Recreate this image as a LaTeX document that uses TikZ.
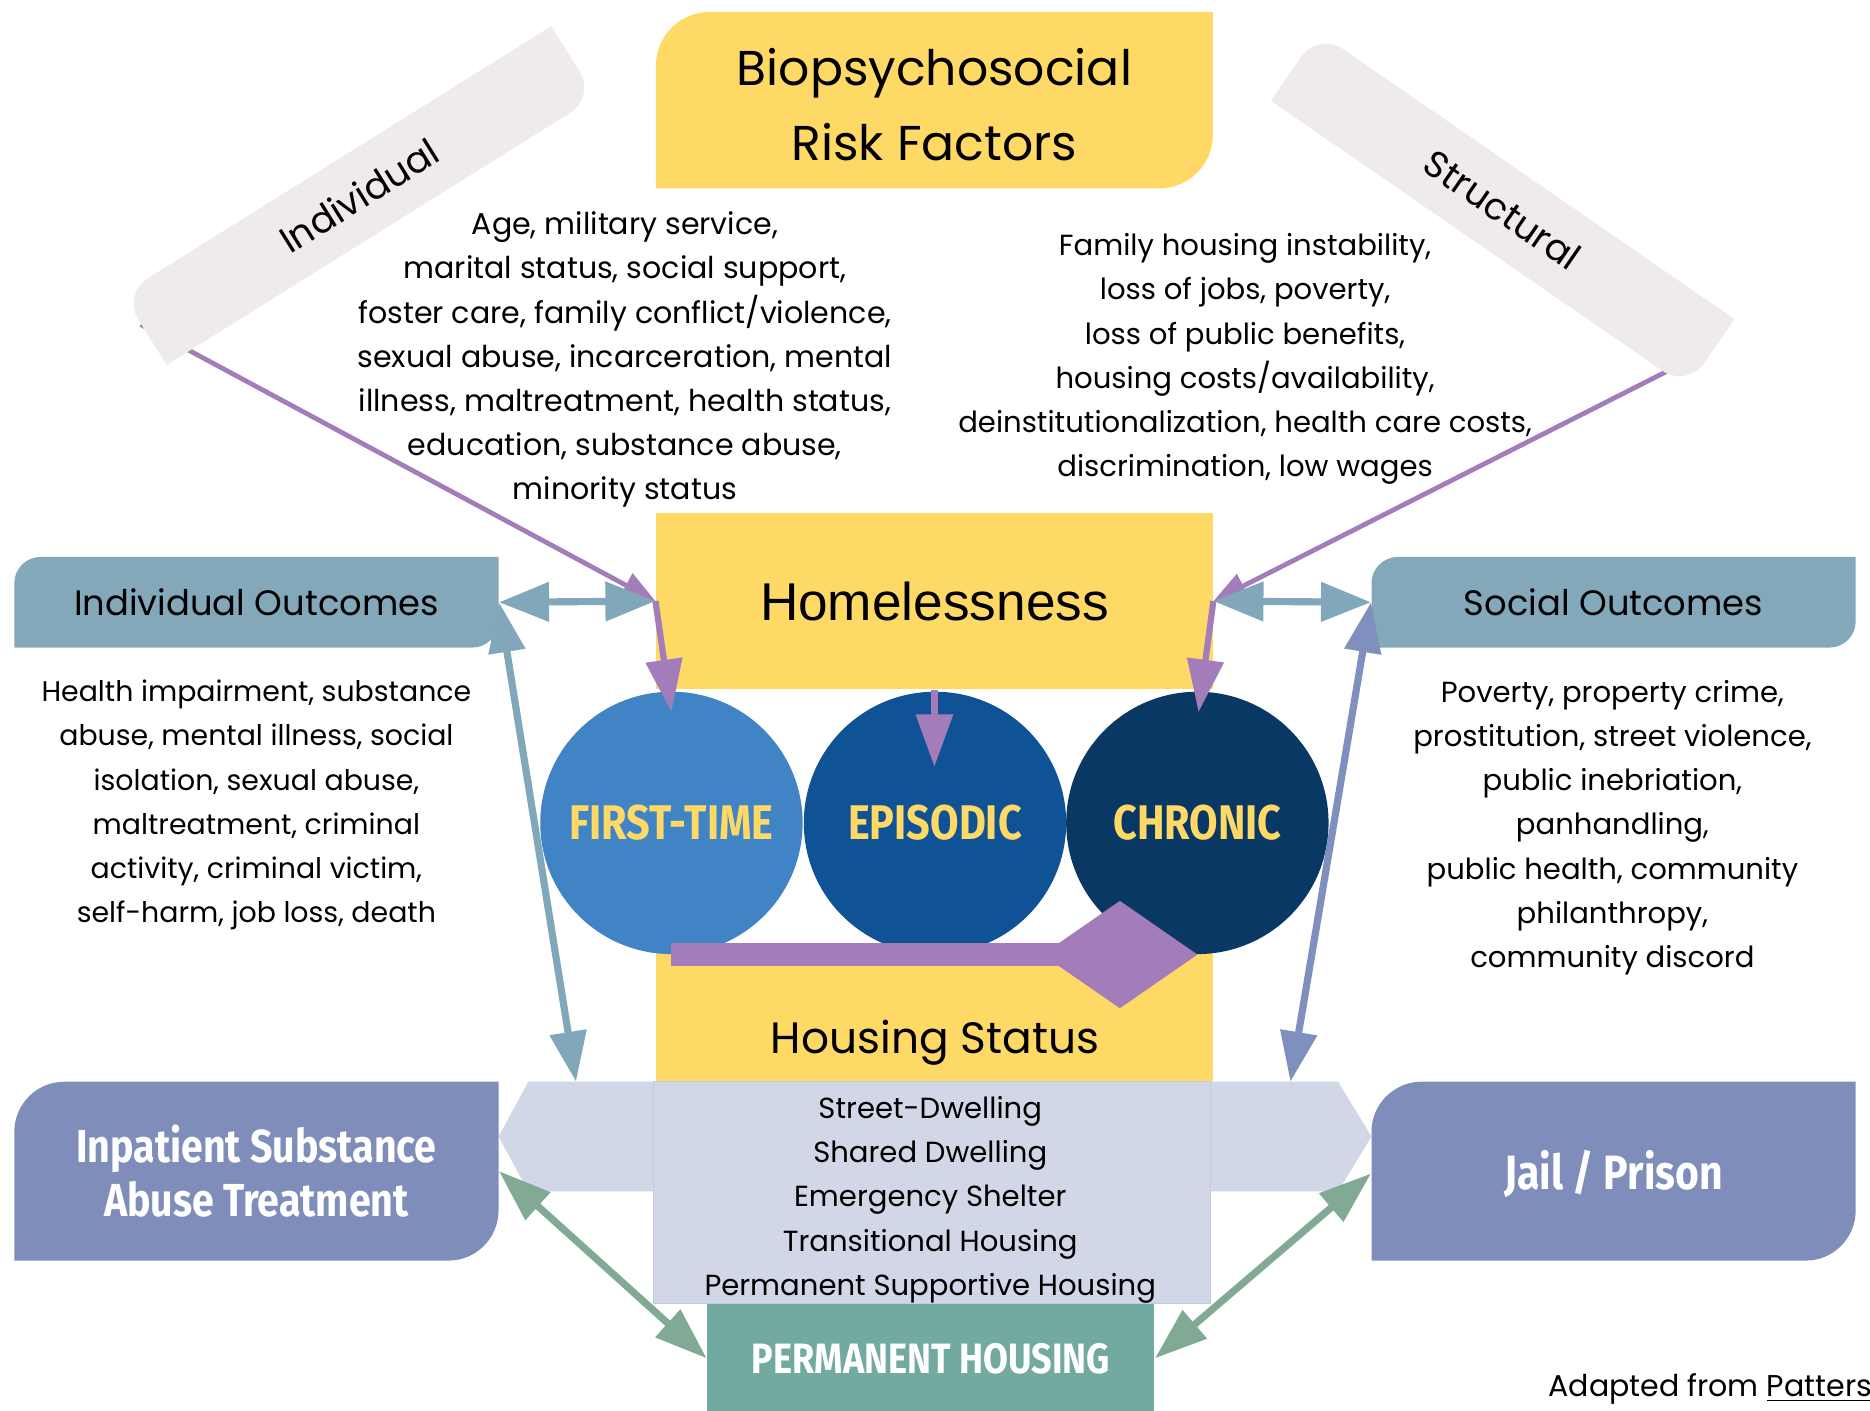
\documentclass[tikz,border=0pt]{standalone}
\usepackage{fontspec}
\setmainfont{Poppins}
\newfontfamily\arialfont{Liberation Sans}
\newfontfamily\condfont[FakeStretch=0.85]{Fira Sans}
\usetikzlibrary{arrows.meta}
\pgfdeclarelayer{back}
\pgfsetlayers{back,main}

\definecolor{riskyellow}{HTML}{FED966}
\definecolor{bannergrey}{HTML}{EFEBEC}
\definecolor{outcomeblue}{HTML}{82A8BA}
\definecolor{tealarrow}{HTML}{80A7BA}
\definecolor{lavender}{HTML}{7F8DBA}
\definecolor{paleblue}{HTML}{D1D7E6}
\definecolor{paleedge}{HTML}{C4CADF}
\definecolor{housingteal}{HTML}{72A9A1}
\definecolor{greenarrow}{HTML}{80AA94}
\definecolor{purplearrow}{HTML}{A27DB9}
\definecolor{bluearrow}{HTML}{8090BE}
\definecolor{firstblue}{HTML}{4084C6}
\definecolor{episodicblue}{HTML}{0F5296}
\definecolor{chronicblue}{HTML}{0A3864}

% box with rounded top-left and bottom-right corners: x1 y1 x2 y2 radius colour
\newcommand\cornerbox[6]{%
  \pgfmathsetmacro\cbA{#2+#5}%
  \pgfmathsetmacro\cbB{#2+0.4477*#5}%
  \pgfmathsetmacro\cbC{#1+0.4477*#5}%
  \pgfmathsetmacro\cbD{#1+#5}%
  \pgfmathsetmacro\cbE{#4-#5}%
  \pgfmathsetmacro\cbF{#4-0.4477*#5}%
  \pgfmathsetmacro\cbG{#3-0.4477*#5}%
  \pgfmathsetmacro\cbH{#3-#5}%
  \fill[#6] (#1,\cbA) .. controls (#1,\cbB) and (\cbC,#2) .. (\cbD,#2)
    -- (#3,#2) -- (#3,\cbE) .. controls (#3,\cbF) and (\cbG,#4) .. (\cbH,#4)
    -- (#1,#4) -- cycle;
}
% rotated banner, drawn in local coordinates centred on the origin
\newcommand\bannershape{%
  \fill[bannergrey] (-212,-10) .. controls (-212,-23.8) and (-200.8,-35) .. (-187,-35)
    -- (212,-35) -- (212,10) .. controls (212,23.8) and (200.8,35) .. (187,35)
    -- (-212,35) -- cycle;
}

\tikzset{
  bodytext/.style={align=center, inner sep=0pt, font=\fontsize{12.4}{18.5}\selectfont},
  headtext/.style={inner sep=0pt, font=\fontsize{14.8}{18}\selectfont},
  bannertext/.style={inner sep=0pt, font=\fontsize{15.5}{18}\selectfont},
  whitecond/.style={inner sep=0pt, align=center, text=white, font=\condfont\bfseries\fontsize{19.4}{22.5}\selectfont},
  stage/.style={circle, inner sep=0pt, minimum size=110pt, text=riskyellow, font=\condfont\bfseries\fontsize{20.4}{24}\selectfont},
  purplediag/.style={draw=purplearrow, line width=2pt, -{Triangle[length=14pt,width=11pt]}},
  purpledown/.style={draw=purplearrow, line width=2.6pt, -{Triangle[length=22pt,width=15pt]}},
  purplebar/.style={draw=purplearrow, line width=10pt, -{Diamond[length=65pt,width=45pt]}},
  tealboth/.style={draw=tealarrow, line width=3pt, {Triangle[length=21pt,width=16pt]}-{Triangle[length=21pt,width=16pt]}},
  longboth/.style={line width=3pt, {Triangle[length=21pt,width=15pt]}-{Triangle[length=21pt,width=15pt]}},
  greenboth/.style={draw=greenarrow, line width=3pt, {Triangle[length=22pt,width=15pt]}-{Triangle[length=22pt,width=15pt]}},
}

\begin{document}
\begin{tikzpicture}[x=0.5pt,y=-0.5pt]
\useasboundingbox (0,0) rectangle (1568,1183);

% ---- title box
\cornerbox{550}{10}{1017}{158}{45}{riskyellow}
\node[inner sep=0pt, align=center, font=\fontsize{20.5}{31.5}\selectfont] (rf) at (783.5,88) {Biopsychosocial\\Risk Factors};

% ---- category banners (shapes go on the back layer)
\node[bannertext, rotate=32] (ind) at (301,164) {Individual};
\node[bannertext, rotate=-34.6] (str) at (1260,176) {Structural};
\coordinate (indend) at (118,272);
\coordinate (strend) at (1432,294);

% ---- risk factor lists
\node[bodytext, font=\fontsize{12.6}{18.5}\selectfont] (indrisk) at (524,301.5) {Age, military service,\\marital status, social support,\\foster care, family conflict/violence,\\sexual abuse, incarceration, mental\\illness, maltreatment, health status,\\education, substance abuse,\\minority status};
\node[bodytext, font=\fontsize{12.2}{18.5}\selectfont] (strrisk) at (1044,301) {Family housing instability,\\loss of jobs, poverty,\\loss of public benefits,\\housing costs/availability,\\deinstitutionalization, health care costs,\\discrimination, low wages};

% ---- homelessness and housing status
\fill[riskyellow] (550,797) rectangle (1017,908);
\node[fill=riskyellow, inner sep=0pt, minimum width=233.5pt, minimum height=74pt, font=\arialfont\fontsize{22.3}{26}\selectfont] (hl) at (783.5,504) {Homelessness};
\node[inner sep=0pt, font=\fontsize{18.4}{22}\selectfont] (hs) at (784,874) {Housing Status};

% ---- stages of homelessness
\node[stage, fill=firstblue] (ft) at (563,690) {FIRST-TIME};
\node[stage, fill=episodicblue] (ep) at (784,690) {EPISODIC};
\node[stage, fill=chronicblue] (ch) at (1004,690) {CHRONIC};
\draw[purplebar] (ft.south) -- (ch.south);

% ---- housing options band
\fill[paleblue] (443,907) -- (1122,907) -- (1150,953) -- (1122,999) -- (443,999) -- (418,953) -- cycle;
\node[fill=paleblue, draw=paleedge, line width=0.4pt, inner sep=0pt, minimum width=233.5pt, minimum height=93pt] (lst) at (781.5,1000) {};
\node[bodytext, font=\fontsize{12.2}{18.5}\selectfont] (lsttext) at (780,1006) {Street-Dwelling\\Shared Dwelling\\Emergency Shelter\\Transitional Housing\\Permanent Supportive Housing};
\coordinate (bandL) at (483,907);
\coordinate (bandR) at (1082,907);
\node[fill=housingteal, inner sep=0pt, minimum width=187.5pt, minimum height=46pt, text=white, font=\condfont\bfseries\fontsize{17.8}{20}\selectfont] (ph) at (780.5,1139) {PERMANENT HOUSING};

% ---- outcome boxes
\cornerbox{12}{467}{418}{543}{22}{outcomeblue}
\node[headtext, minimum width=203pt, minimum height=38pt] (io) at (215,505) {\raisebox{-1.5pt}{Individual Outcomes}};
\cornerbox{1150}{467}{1556}{543}{22}{outcomeblue}
\node[headtext, minimum width=203pt, minimum height=38pt] (so) at (1353,505) {\raisebox{-1.5pt}{Social Outcomes}};
\node[bodytext, font=\fontsize{11.9}{18.5}\selectfont] (iotext) at (215,675) {Health impairment, substance\\abuse, mental illness, social\\isolation, sexual abuse,\\maltreatment, criminal\\activity, criminal victim,\\self-harm, job loss, death};
\node[bodytext, font=\fontsize{12.2}{18.5}\selectfont] (sotext) at (1352,694) {Poverty, property crime,\\prostitution, street violence,\\public inebriation,\\panhandling,\\public health, community\\philanthropy,\\community discord};

% ---- institutional settings
\cornerbox{12}{907}{418}{1057}{42}{lavender}
\node[whitecond, minimum width=203pt, minimum height=75pt] (ip) at (215,982) {Inpatient Substance\\Abuse Treatment};
\cornerbox{1150}{907}{1556}{1057}{42}{lavender}
\node[whitecond, minimum width=203pt, minimum height=75pt, font=\condfont\bfseries\fontsize{20.2}{22.5}\selectfont] (jp) at (1353,984) {Jail / Prison};

% ---- source note
\node[anchor=west, inner sep=0pt, font=\fontsize{12.6}{16}\selectfont] (src) at (1298,1165) {Adapted from \underline{Patters}};

% ---- connectors
\coordinate (ftin) at (563,597);
\coordinate (chin) at (1005,597);
\coordinate (epin) at (783.5,643);
\draw[purpledown] (hl.west) -- (ftin);
\draw[purpledown] (hl.east) -- (chin);
\draw[purpledown, line width=3pt] (hl.south) -- (epin);
\draw[tealboth] (io.east) -- (hl.west);
\draw[tealboth] (hl.east) -- (so.west);
\draw[longboth, draw=tealarrow] (io.east) -- (bandL);
\draw[longboth, draw=bluearrow] (so.west) -- (bandR);
\draw[greenboth] (ip.east) -- (ph.west);
\draw[greenboth] (jp.west) -- (ph.east);

\begin{pgfonlayer}{back}
  \draw[purplediag] (indend) -- (hl.west);
  \draw[purplediag] (strend) -- (hl.east);
  \begin{scope}[shift={(301,164)}, rotate=32]
    \bannershape
  \end{scope}
  \begin{scope}[shift={(1260,176)}, rotate=-34.6]
    \bannershape
  \end{scope}
\end{pgfonlayer}
\end{tikzpicture}
\end{document}
